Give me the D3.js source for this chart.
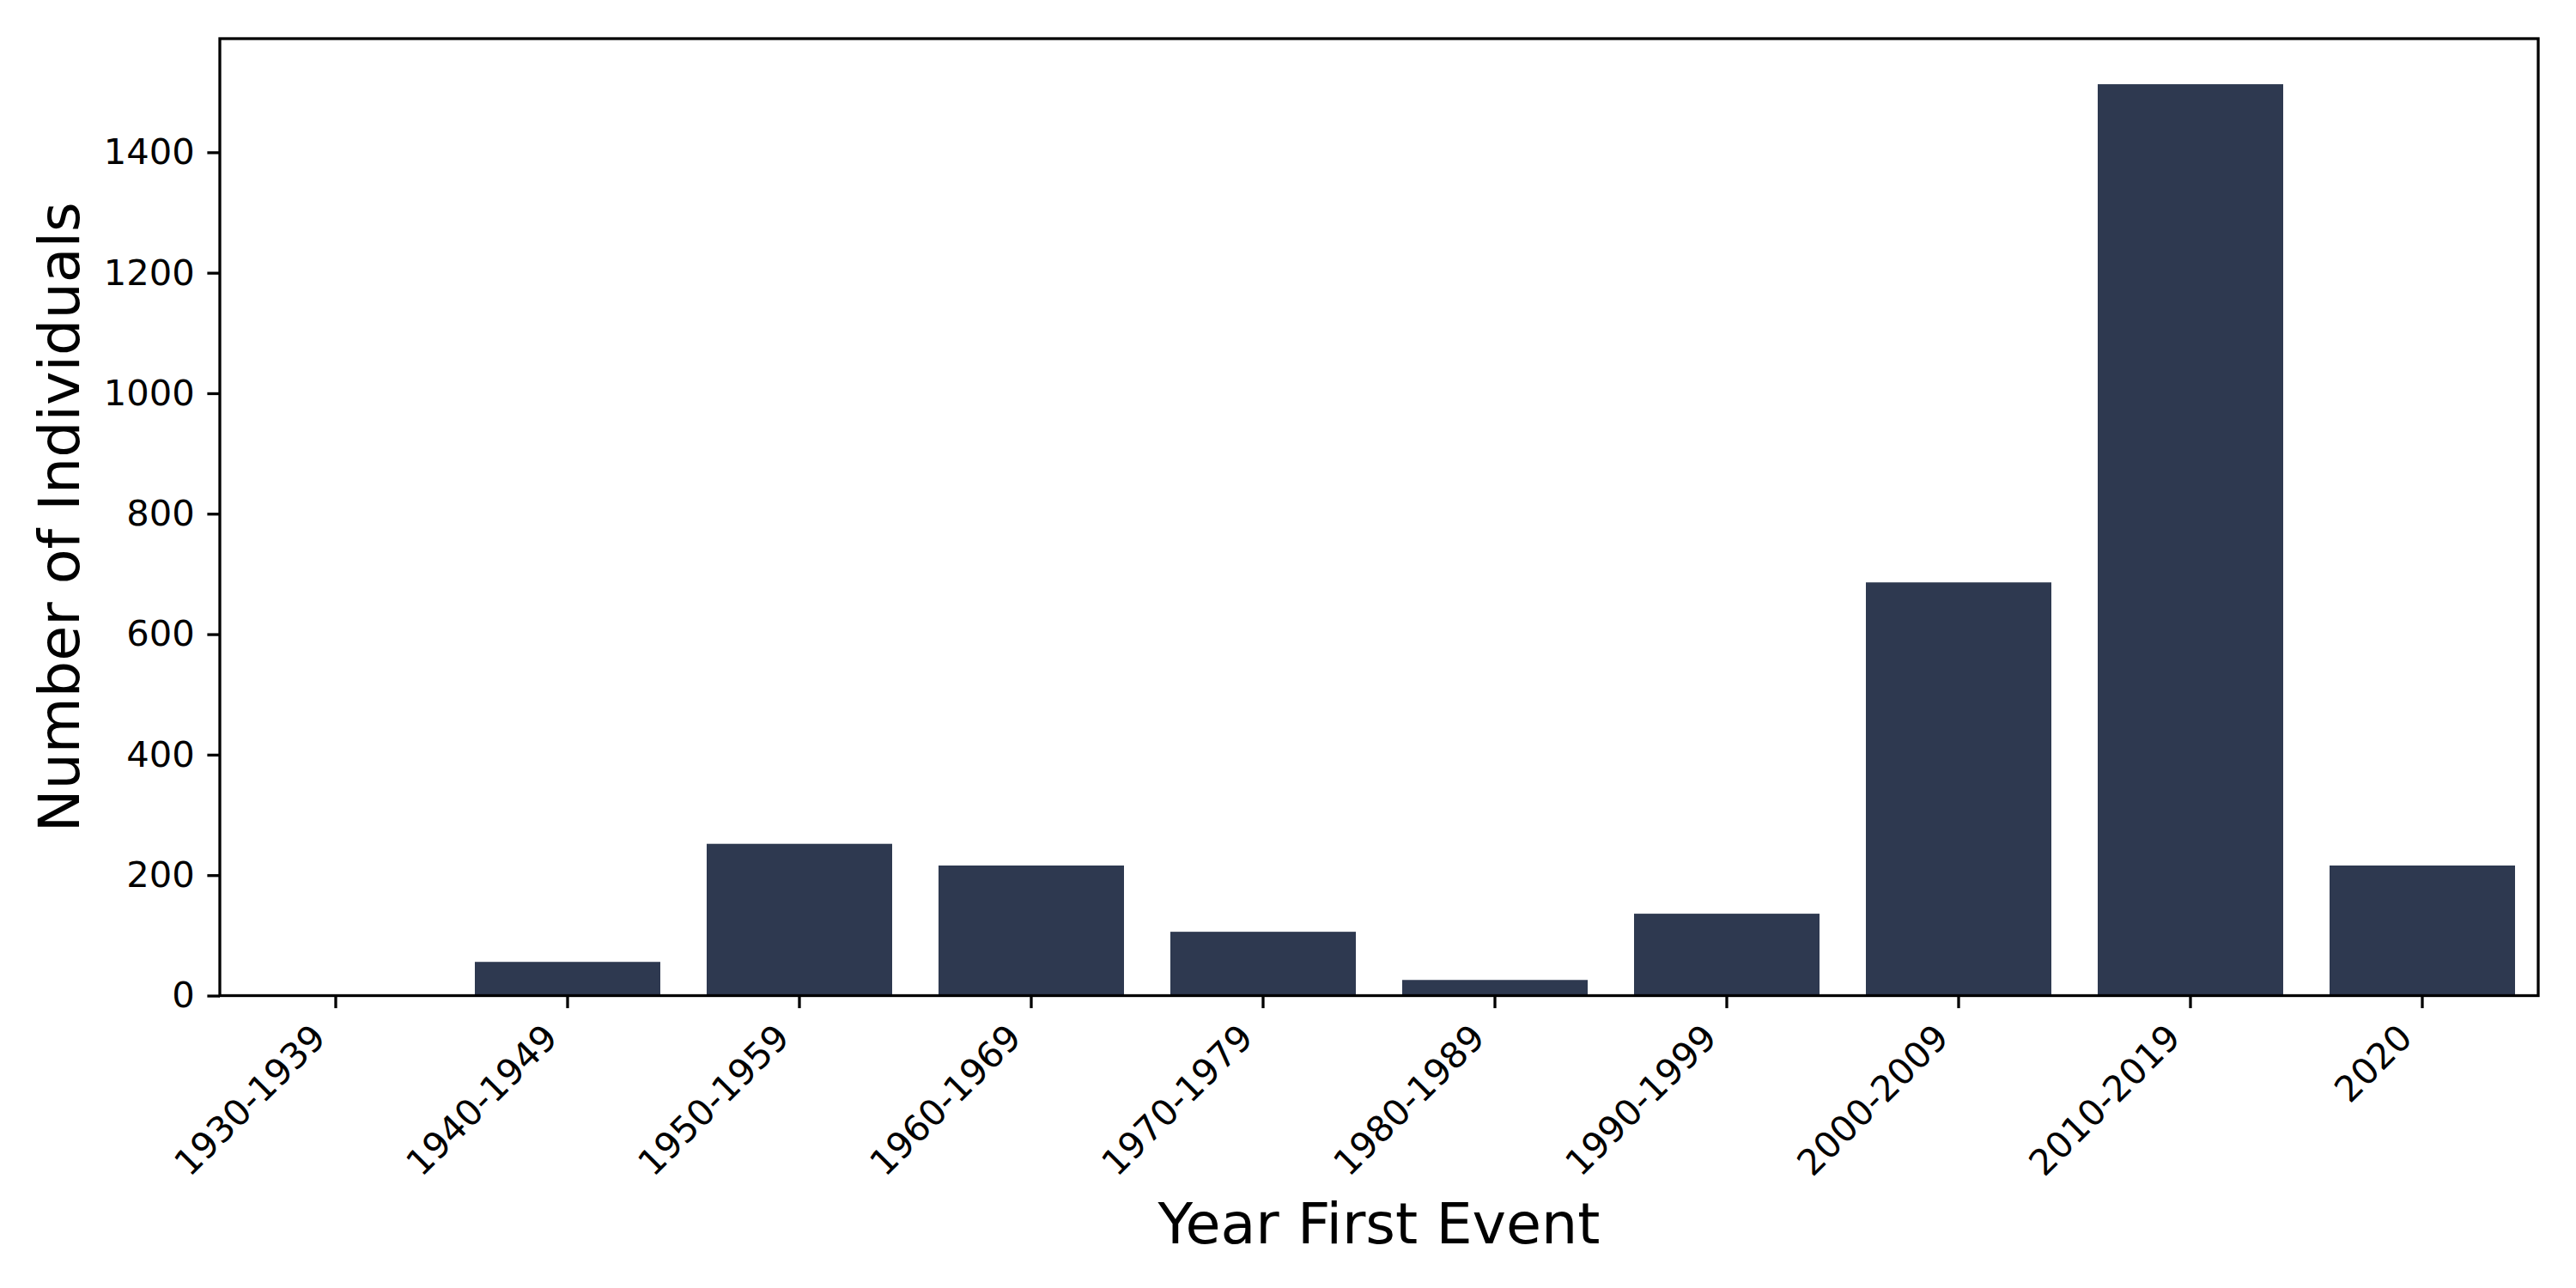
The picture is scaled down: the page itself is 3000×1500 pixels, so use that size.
<!DOCTYPE html>
<html>
  <head>
    <title>Year First Event</title>
    <script src="https://d3js.org/d3.v7.min.js"></script>
    <style>
      body { margin: 0; background: #fff; }
      text { font-family: "DejaVu Sans", sans-serif; fill: #000; }
    </style>
  </head>
  <body>
    <svg id="chart" width="3000" height="1500"></svg>
    <script>
      // data
      const decades = ["1930-1939", "1940-1949", "1950-1959", "1960-1969", "1970-1979",
                       "1980-1989", "1990-1999", "2000-2009", "2010-2019", "2020"];
      const counts = [1, 56, 252, 216, 106, 26, 136, 686, 1513, 216];
      const yTicks = [0, 200, 400, 600, 800, 1000, 1200, 1400];

      const svg = d3.select("#chart");
      const margin = { left: 256, right: 44, top: 45, bottom: 340.5 };
      const width = 3000 - margin.left - margin.right;
      const height = 1500 - margin.top - margin.bottom;

      const g = svg.append("g")
        .attr("transform", `translate(${margin.left},${margin.top})`);

      const x = d3.scaleBand()
        .domain(decades)
        .range([0, width])
        .paddingInner(0.2)
        .paddingOuter(0.1);

      // matplotlib-style 5% headroom
      const y = d3.scaleLinear()
        .domain([0, d3.max(counts) * 1.05])
        .range([height, 0]);

      g.selectAll("rect.bar")
        .data(counts)
        .join("rect")
        .attr("class", "bar")
        .attr("x", (d, i) => x(decades[i]))
        .attr("y", d => y(d))
        .attr("width", x.bandwidth())
        .attr("height", d => height - y(d))
        .attr("fill", "#2e3950");

      const tickLen = 14.6, pad = 14.6, tickFont = 41.7;

      // y axis
      const yAxis = g.append("g")
        .call(d3.axisLeft(y).tickValues(yTicks).tickFormat(d3.format("d"))
          .tickSize(tickLen).tickPadding(pad));
      yAxis.select(".domain").remove();
      yAxis.selectAll(".tick line").attr("stroke", "#000").attr("stroke-width", 3.3);
      yAxis.selectAll(".tick text")
        .attr("font-size", tickFont)
        .attr("font-family", "DejaVu Sans")
        .attr("dy", "0.32em");

      // x axis
      const xAxis = g.append("g")
        .attr("transform", `translate(0,${height})`)
        .call(d3.axisBottom(x).tickSize(tickLen).tickPadding(0));
      xAxis.select(".domain").remove();
      xAxis.selectAll(".tick line").attr("stroke", "#000").attr("stroke-width", 3.3);
      xAxis.selectAll(".tick text")
        .attr("font-size", tickFont)
        .attr("font-family", "DejaVu Sans")
        .attr("text-anchor", "end")
        .attr("dy", null)
        .attr("y", null)
        .attr("transform", `translate(${-0.22 * tickFont * 0.707 - 3},${tickLen + pad + 0.76 * tickFont * 0.707}) rotate(-45)`);

      // frame
      g.append("rect")
        .attr("x", 0).attr("y", 0)
        .attr("width", width).attr("height", height)
        .attr("fill", "none")
        .attr("stroke", "#000")
        .attr("stroke-width", 3.3);

      // axis titles
      svg.append("text")
        .attr("x", margin.left + width / 2)
        .attr("y", 1448)
        .attr("text-anchor", "middle")
        .attr("font-size", 66.7)
        .text("Year First Event");

      svg.append("text")
        .attr("transform", `translate(92,${margin.top + height / 2}) rotate(-90)`)
        .attr("text-anchor", "middle")
        .attr("font-size", 66.7)
        .text("Number of Individuals");
    </script>
  </body>
</html>
